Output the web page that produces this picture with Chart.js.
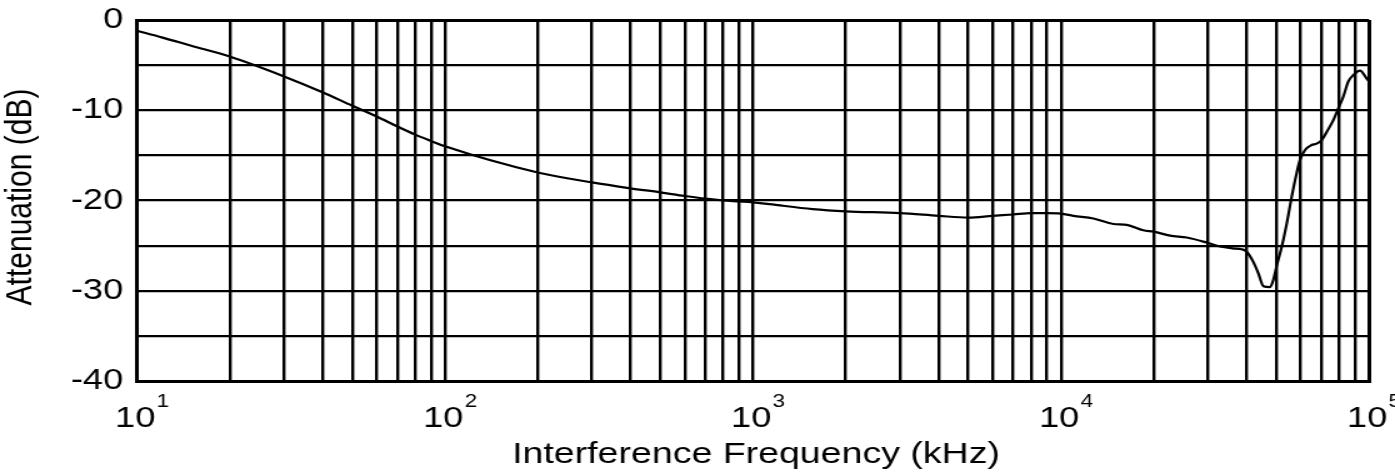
<!DOCTYPE html>
<html>
<head>
<meta charset="utf-8">
<script src="https://cdn.jsdelivr.net/npm/chart.js@4/dist/chart.umd.min.js"></script>
<style>
  html, body { margin: 0; padding: 0; background: #fff; }
</style>
</head>
<body>
<!-- la figure d'origine est étirée en largeur : on dessine plus étroit puis on étire en CSS -->
<canvas id="attenuationChart" width="1116" height="472" style="width:1395px;height:472px;display:block"></canvas>
<script>
// Données
const frequences = [10, 12.1, 15, 20, 30, 40, 50, 60, 70, 80, 90, 100, 200, 300, 400, 500, 600, 700, 800, 900,
  1000, 1130, 1560, 2000, 3000, 4000, 5000, 6000, 7000, 8000, 9000, 10000, 10970, 12740, 14800, 16350, 18500,
  20000, 22600, 25600, 30000, 32800, 36000, 38600, 40000, 42100, 43700, 45400, 47700, 48900, 50100, 52100,
  54100, 56100, 58200, 59700, 62000, 65100, 67600, 70200, 72900, 76600, 79500, 82500, 85700, 89000, 93500,
  98300, 100000];
const attenuation = [-1.2, -1.95, -2.85, -4.05, -6.25, -8.0, -9.5, -10.7, -11.8, -12.7, -13.4, -14.0, -16.9, -18.0,
  -18.65, -19.1, -19.5, -19.8, -20.0, -20.1, -20.2, -20.4, -20.95, -21.2, -21.4, -21.7, -21.9, -21.7, -21.55,
  -21.4, -21.4, -21.45, -21.7, -22.0, -22.6, -22.7, -23.3, -23.45, -23.9, -24.1, -24.7, -25.1, -25.3, -25.4,
  -25.65, -26.8, -28.05, -29.5, -29.6, -28.8, -27.3, -25.1, -22.5, -19.6, -17.0, -15.5, -14.4, -13.85, -13.7,
  -13.3, -12.4, -11.1, -9.8, -8.5, -6.8, -6.1, -5.6, -6.5, -6.8];

// Graduations
const decades = [1, 2, 3, 4, 5];
const multiples = [1, 2, 3, 4, 5, 6, 7, 8, 9];
const yGraduations = [-40, -35, -30, -25, -20, -15, -10, -5, 0];
const yEtiquettes = [-40, -30, -20, -10, 0];

const xTitre = 'Interference Frequency (kHz)';
const yTitre = 'Attenuation (dB)';

const police = '"Liberation Sans", Arial, Helvetica, sans-serif';

// Toutes les lignes verticales de la grille log (10, 20, ... 100000)
function graduationsLog() {
  const valeurs = [];
  decades.slice(0, -1).forEach(d => {
    multiples.forEach(m => valeurs.push(m * Math.pow(10, d)));
  });
  valeurs.push(Math.pow(10, decades[decades.length - 1]));
  return valeurs;
}

// Plugin pour les étiquettes (exposants) et titres
const textes = {
  id: 'textes',
  afterDraw(chart) {
    const ctx = chart.ctx;
    const sx = chart.scales.x;
    const sy = chart.scales.y;
    ctx.save();
    ctx.fillStyle = '#000';

    // Étiquettes Y
    ctx.font = '29px ' + police;
    ctx.textAlign = 'right';
    ctx.textBaseline = 'middle';
    yEtiquettes.forEach(v => {
      ctx.fillText(String(v), sx.left - 11, sy.getPixelForValue(v));
    });

    // Étiquettes X : 10 avec exposant
    decades.forEach(d => {
      const px = sx.getPixelForValue(Math.pow(10, d));
      ctx.font = '29px ' + police;
      ctx.textAlign = 'left';
      ctx.textBaseline = 'alphabetic';
      const x0 = px - 17.6;
      ctx.fillText('10', x0, 427);
      const w = ctx.measureText('10').width;
      ctx.font = '18px ' + police;
      ctx.fillText(String(d), x0 + w + 1, 407);
    });

    // Titre X
    ctx.font = '30px ' + police;
    ctx.textAlign = 'center';
    ctx.textBaseline = 'alphabetic';
    ctx.fillText(xTitre, 604.8, 463);

    // Titre Y
    ctx.translate(17.2, 197);
    ctx.rotate(-Math.PI / 2);
    ctx.textBaseline = 'middle';
    ctx.fillText(yTitre, 0, 0);
    ctx.restore();
  }
};

const ctx = document.getElementById('attenuationChart').getContext('2d');
new Chart(ctx, {
  type: 'line',
  data: {
    datasets: [{
      data: frequences.map((f, i) => ({ x: f, y: attenuation[i] })),
      borderColor: '#000',
      borderWidth: 2.2,
      pointRadius: 0,
      cubicInterpolationMode: 'monotone',
      fill: false,
    }]
  },
  options: {
    responsive: false,
    devicePixelRatio: 1,
    animation: false,
    layout: { padding: { left: 109.6, right: 20.8, top: 20, bottom: 91 } },
    plugins: {
      legend: { display: false },
      tooltip: { enabled: false },
    },
    scales: {
      x: {
        type: 'logarithmic',
        min: 10,
        max: 100000,
        afterBuildTicks: scale => {
          scale.ticks = graduationsLog().map(v => ({ value: v }));
        },
        ticks: { display: false, autoSkip: false },
        grid: {
          color: '#000',
          lineWidth: c => (c.index === 0 || c.tick && c.tick.value === 100000) ? 3 : 2.4,
          drawTicks: false,
        },
        border: { display: true, color: '#000', width: 3 },
      },
      y: {
        type: 'linear',
        min: -40,
        max: 0,
        afterBuildTicks: scale => {
          scale.ticks = yGraduations.map(v => ({ value: v }));
        },
        ticks: { display: false },
        grid: {
          color: '#000',
          lineWidth: c => (c.tick && (c.tick.value === 0 || c.tick.value === -40)) ? 3 : 2.2,
          drawTicks: false,
        },
        border: { display: true, color: '#000', width: 3 },
      }
    }
  },
  plugins: [textes]
});
</script>
</body>
</html>
